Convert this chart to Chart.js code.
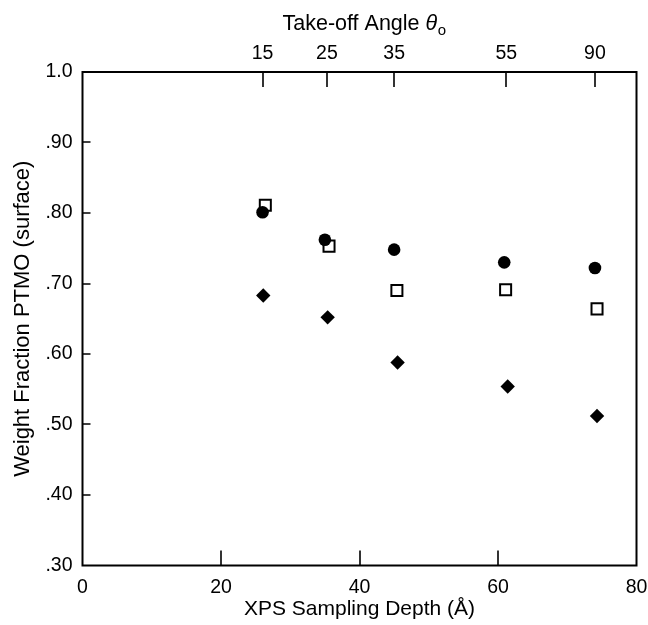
<!DOCTYPE html>
<html>
<head>
<meta charset="utf-8">
<script src="https://cdn.jsdelivr.net/npm/chart.js@4.4.1/dist/chart.umd.min.js"></script>
<style>
  html, body { margin: 0; padding: 0; background: #fff; }
  #wrap { width: 648px; height: 625px; }
</style>
</head>
<body>
<div id="wrap"><canvas id="ptmoChart" width="648" height="625"></canvas></div>
<script>
// sampling depth (A) for each take-off angle
const angleLabels = ['15', '25', '35', '55', '90'];
const angleDepths = [26.0, 35.3, 45.0, 61.2, 74.0];

const circleX = [26.0, 35.0, 45.0, 60.9, 74.0];
const circleY = [0.801, 0.762, 0.748, 0.730, 0.722];

const squareX = [26.4, 35.6, 45.4, 61.1, 74.3];
const squareY = [0.811, 0.753, 0.690, 0.691, 0.664];

const diamondX = [26.1, 35.4, 45.5, 61.4, 74.3];
const diamondY = [0.683, 0.652, 0.588, 0.554, 0.512];

const xTicks = [0, 20, 40, 60, 80];
const yTicks = [0.3, 0.4, 0.5, 0.6, 0.7, 0.8, 0.9, 1.0];

const FONT = "'Liberation Sans', Arial, Helvetica, sans-serif";

function toPoints(xs, ys) {
    return xs.map((x, i) => ({ x: x, y: ys[i] }));
}

function yLabel(v) {
    if (Math.abs(v - 1) < 1e-6) return '1.0';
    return v.toFixed(2).replace(/^0/, '');
}

// frame, inward tick marks and the top title
const framePlugin = {
    id: 'frame',
    beforeDraw(chart) {
        const ctx = chart.ctx;
        ctx.save();
        ctx.fillStyle = '#fff';
        ctx.fillRect(0, 0, chart.width, chart.height);
        ctx.restore();
    },
    afterDraw(chart) {
        const ctx = chart.ctx;
        const a = chart.chartArea;
        const sx = chart.scales.x, sy = chart.scales.y;
        ctx.save();
        ctx.strokeStyle = '#000';
        ctx.lineWidth = 2;
        ctx.strokeRect(a.left, a.top, a.right - a.left, a.bottom - a.top);

        ctx.beginPath();
        yTicks.slice(1, -1).forEach(v => {
            const py = Math.round(sy.getPixelForValue(v));
            ctx.moveTo(a.left, py);
            ctx.lineTo(a.left + 8, py);
        });
        xTicks.slice(1, -1).forEach(v => {
            const px = Math.round(sx.getPixelForValue(v));
            ctx.moveTo(px, a.bottom);
            ctx.lineTo(px, a.bottom - 15);
        });
        angleDepths.forEach(v => {
            const px = Math.round(sx.getPixelForValue(v));
            ctx.moveTo(px, a.top);
            ctx.lineTo(px, a.top + 15);
        });
        ctx.lineWidth = 1.6;
        ctx.stroke();

        // "Take-off Angle θo" with italic theta and subscript o
        const main = 'Take-off Angle ';
        ctx.fillStyle = '#000';
        ctx.textBaseline = 'alphabetic';
        ctx.font = '21.5px ' + FONT;
        const w1 = ctx.measureText(main).width;
        ctx.font = 'italic 21.5px ' + FONT;
        const w2 = ctx.measureText('θ').width;
        ctx.font = '15px ' + FONT;
        const w3 = ctx.measureText('o').width;
        let x0 = 364 - (w1 + w2 + w3) / 2;
        const base = 30;
        ctx.font = '21.5px ' + FONT;
        ctx.fillText(main, x0, base);
        ctx.font = 'italic 21.5px ' + FONT;
        ctx.fillText('θ', x0 + w1, base);
        ctx.font = '15px ' + FONT;
        ctx.fillText('o', x0 + w1 + w2 + 0.5, base + 5);
        ctx.restore();
    }
};

function fixX(height) {
    return s => {
        s.height = height;
        s.paddingLeft = 0;
        s.paddingRight = 0;
    };
}

document.addEventListener('DOMContentLoaded', function() {
    const ctx = document.getElementById('ptmoChart').getContext('2d');
    new Chart(ctx, {
        type: 'scatter',
        data: {
            datasets: [
                {
                    label: 'circles',
                    data: toPoints(circleX, circleY),
                    pointStyle: 'circle',
                    pointRadius: 6.3,
                    backgroundColor: '#000',
                    borderColor: '#000',
                    borderWidth: 0
                },
                {
                    label: 'diamonds',
                    data: toPoints(diamondX, diamondY),
                    pointStyle: 'rectRot',
                    pointRadius: 7.2,
                    backgroundColor: '#000',
                    borderColor: '#000',
                    borderWidth: 0
                },
                {
                    label: 'squares',
                    data: toPoints(squareX, squareY),
                    pointStyle: 'rect',
                    pointRadius: 7.8,
                    backgroundColor: '#fff',
                    borderColor: '#000',
                    borderWidth: 2
                }
            ]
        },
        options: {
            responsive: false,
            animation: false,
            events: [],
            layout: { padding: { left: 0, right: 11.5, top: 0, bottom: 0 } },
            plugins: {
                legend: { display: false },
                tooltip: { enabled: false }
            },
            scales: {
                x: {
                    type: 'linear',
                    position: 'bottom',
                    min: 0,
                    max: 80,
                    afterBuildTicks: s => { s.ticks = xTicks.map(v => ({ value: v })); },
                    afterFit: fixX(59.5),
                    grid: { display: false, drawTicks: false },
                    border: { display: false },
                    ticks: {
                        color: '#000',
                        padding: 10,
                        maxRotation: 0,
                        font: { family: FONT, size: 19.5 }
                    },
                    title: {
                        display: true,
                        text: 'XPS Sampling Depth (Å)',
                        color: '#000',
                        padding: { top: 0, bottom: 3 },
                        font: { family: FONT, size: 21 }
                    }
                },
                x2: {
                    type: 'linear',
                    position: 'top',
                    min: 0,
                    max: 80,
                    afterBuildTicks: s => { s.ticks = angleDepths.map(v => ({ value: v })); },
                    afterFit: fixX(72),
                    grid: { display: false, drawTicks: false },
                    border: { display: false },
                    ticks: {
                        color: '#000',
                        padding: 7,
                        maxRotation: 0,
                        autoSkip: false,
                        font: { family: FONT, size: 19.5 },
                        callback: (v, i) => angleLabels[i]
                    }
                },
                y: {
                    type: 'linear',
                    min: 0.3,
                    max: 1.0,
                    afterBuildTicks: s => { s.ticks = yTicks.map(v => ({ value: v })); },
                    afterFit: s => { s.width = 82.5; s.paddingTop = 0; s.paddingBottom = 0; },
                    grid: { display: false, drawTicks: false },
                    border: { display: false },
                    ticks: {
                        color: '#000',
                        padding: 10,
                        font: { family: FONT, size: 19.5 },
                        callback: v => yLabel(v)
                    },
                    title: {
                        display: true,
                        text: 'Weight Fraction PTMO (surface)',
                        color: '#000',
                        padding: { top: 10, bottom: 0 },
                        font: { family: FONT, size: 22 }
                    }
                }
            }
        },
        plugins: [framePlugin]
    });
});
</script>
</body>
</html>
